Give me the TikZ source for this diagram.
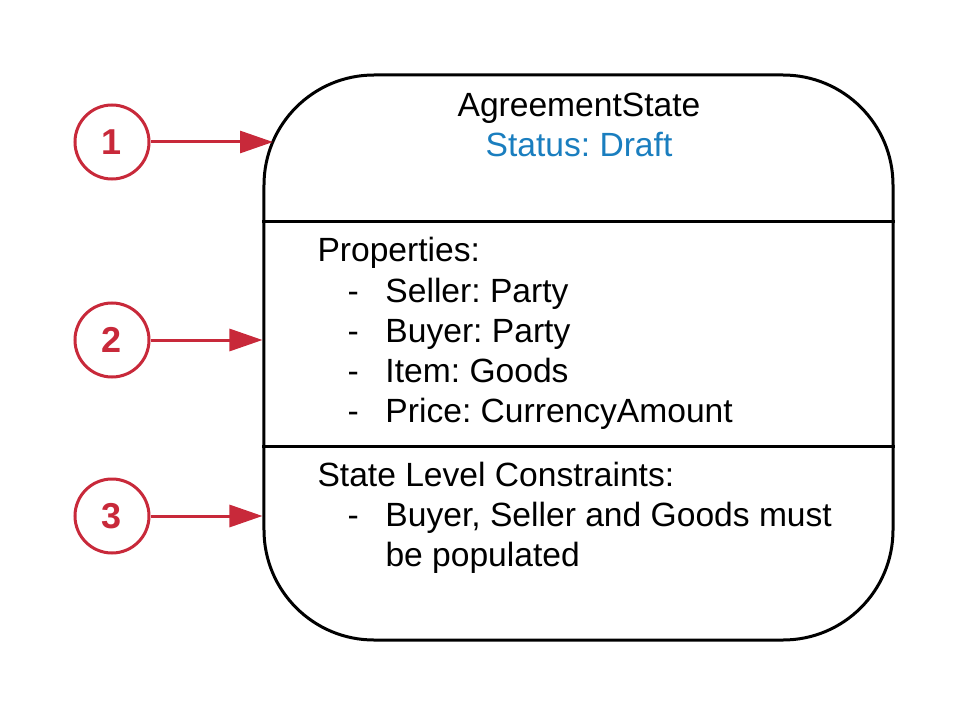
\documentclass[tikz,border=0pt]{standalone}
\usepackage{fontspec}
\setmainfont{Liberation Sans}
\usetikzlibrary{arrows.meta}
\frenchspacing

\definecolor{markred}{HTML}{C8293A}
\definecolor{statusblue}{HTML}{1A7EBF}

\newcommand{\listdash}[1]{\makebox[38bp][l]{-}#1}

\begin{document}
\begin{tikzpicture}[
				x = 1bp, y = -1bp, % pixel grid, y downwards
				> = {Triangle[length=33bp, width=22bp]}, % arrow head style
				line width = 3bp,
				marker/.style = {draw=markred, circle, minimum size=74bp, inner sep=0pt,
					text=markred, font=\fontsize{36bp}{40bp}\selectfont\bfseries},
				pointer/.style = {->, color=markred},
				txt/.style = {anchor=base west, inner sep=0pt, font=\fontsize{33.6bp}{40bp}\selectfont}
				]
				
				\useasboundingbox (0,0) rectangle (971,716);
				
				% the state box
				\node (state) [draw, rounded corners=110bp, minimum width=629bp, minimum height=565bp, inner sep=0pt] at (578.5,357.5) {};
				\draw (state.west |- 0,221) -- (state.east |- 0,221);
				\draw (state.west |- 0,446) -- (state.east |- 0,446);
				
				% header
				\node (title) [txt, anchor=base] at (579,117) {AgreementState};
				\node (status) [txt, anchor=base, text=statusblue] at (579,157) {Status: Draft};
				
				% properties
				\node (props) [txt] at (316,261) {Properties:};
				\node (seller) [txt] at (346,302) {\listdash{Seller: Party}};
				\node (buyer) [txt] at (346,342) {\listdash{Buyer: Party}};
				\node (item) [txt] at (346,382) {\listdash{Item: Goods}};
				\node (price) [txt] at (346,422) {\listdash{Price: CurrencyAmount}};
				
				% constraints
				\node (cons) [txt] at (316,486) {State Level Constraints:};
				\node (rule) [txt] at (346,526) {\listdash{Buyer, Seller and Goods must}};
				\node (rulecont) [txt] at (384,566) {be populated};
				
				% numbered markers
				\node (m1) [marker] at (112,142) {1};
				\node (m2) [marker] at (112,340) {2};
				\node (m3) [marker] at (112,516) {3};
				
				\coordinate (hit1) at (273,142);
				\path[pointer] (m1) edge (hit1);
				\path[pointer] (m2) edge (m2 -| state.west);
				\path[pointer] (m3) edge (m3 -| state.west);
				
			\end{tikzpicture}
\end{document}
